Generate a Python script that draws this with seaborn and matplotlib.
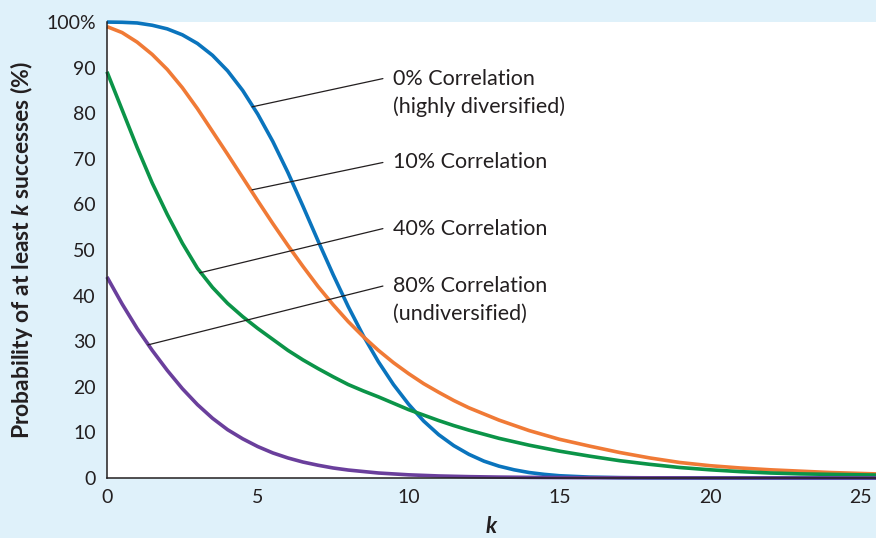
import pandas as pd
import seaborn as sns
import matplotlib.pyplot as plt

# values (k, probability of at least k successes in %)
k_0 = [0, 0.5, 1, 1.5, 2, 2.5, 3, 3.5, 4, 4.5, 5, 5.5, 6, 6.5, 7, 7.5, 8, 8.5, 9, 9.5,
       10, 10.5, 11, 11.5, 12, 12.5, 13, 13.5, 14, 14.5, 15, 16, 17, 18, 20, 25.5]
p_0 = [100, 99.95, 99.8, 99.3, 98.5, 97.2, 95.3, 92.7, 89.3, 85.0, 79.8, 73.8, 67.0, 59.6,
       52.0, 44.6, 37.6, 31.2, 25.5, 20.5, 16.2, 12.5, 9.5, 7.1, 5.2, 3.7, 2.6, 1.8, 1.2,
       0.8, 0.5, 0.2, 0.08, 0.03, 0.0, 0.0]

k_10 = [0, 0.5, 1, 1.5, 2, 2.5, 3, 3.5, 4, 4.5, 5, 5.5, 6, 6.5, 7, 7.5, 8, 8.5, 9, 9.5,
        10, 10.5, 11, 11.5, 12, 13, 14, 15, 16, 17, 18, 19, 20, 21, 22, 23, 24, 25, 25.5]
p_10 = [99.0, 97.7, 95.6, 92.9, 89.6, 85.6, 81.0, 76.0, 71.0, 65.9, 60.8, 55.8, 51.0, 46.4,
        42.0, 38.0, 34.3, 31.0, 28.0, 25.3, 22.9, 20.7, 18.8, 17.0, 15.4, 12.7, 10.4, 8.5,
        7.0, 5.6, 4.4, 3.4, 2.7, 2.2, 1.8, 1.5, 1.2, 1.0, 0.9]

k_40 = [0, 0.5, 1, 1.5, 2, 2.5, 3, 3.5, 4, 4.5, 5, 5.5, 6, 6.5, 7, 7.5, 8, 8.5, 9, 9.5,
        10, 10.5, 11, 11.5, 12, 13, 14, 15, 16, 17, 18, 19, 20, 21, 22, 23, 24, 25, 25.5]
p_40 = [89.1, 80.8, 72.5, 64.7, 57.8, 51.5, 46.0, 41.8, 38.3, 35.4, 32.8, 30.4, 28.0, 25.9,
        24.0, 22.2, 20.5, 19.1, 17.8, 16.4, 15.0, 13.8, 12.6, 11.5, 10.5, 8.7, 7.2, 5.9,
        4.8, 3.8, 3.0, 2.3, 1.8, 1.4, 1.1, 0.9, 0.8, 0.7, 0.65]

k_80 = [0, 0.5, 1, 1.5, 2, 2.5, 3, 3.5, 4, 4.5, 5, 5.5, 6, 6.5, 7, 7.5, 8, 9, 10, 11,
        12, 13, 14, 16, 20, 25.5]
p_80 = [44.1, 38.2, 32.8, 28.0, 23.6, 19.6, 16.1, 13.1, 10.6, 8.6, 6.9, 5.5, 4.4, 3.5,
        2.8, 2.2, 1.75, 1.1, 0.7, 0.45, 0.3, 0.2, 0.14, 0.07, 0.02, 0.01]

series_names = ["0%", "10%", "40%", "80%"]
label_lines = [["0% Correlation", "(highly diversified)"], ["10% Correlation"],
               ["40% Correlation"], ["80% Correlation", "(undiversified)"]]
# where each leader line touches its curve and where it ends next to the label (k, %)
touch_k = [4.81, 4.81, 3.08, 1.36]
touch_p = [81.4, 63.2, 45.0, 29.2]
label_k = [9.15, 9.15, 9.15, 9.15]
label_p = [87.6, 69.2, 54.7, 42.1]

colors = {"0%": "#0a74bd", "10%": "#f07a36", "40%": "#0b9448", "80%": "#6a3f9c"}

df = pd.concat([
    pd.DataFrame({"k": k_0, "p": p_0, "corr": "0%"}),
    pd.DataFrame({"k": k_10, "p": p_10, "corr": "10%"}),
    pd.DataFrame({"k": k_40, "p": p_40, "corr": "40%"}),
    pd.DataFrame({"k": k_80, "p": p_80, "corr": "80%"}),
])

sns.set_theme(style="white")
plt.rcParams["font.family"] = ["Lato", "DejaVu Sans"]
plt.rcParams["mathtext.fontset"] = "custom"
plt.rcParams["mathtext.it"] = "Lato:italic:bold"
plt.rcParams["mathtext.rm"] = "Lato"

BG = "#dff1fa"
INK = "#231f20"

fig = plt.figure(figsize=(8.76, 5.38), dpi=100, facecolor=BG)
ax = fig.add_axes([0.1221, 0.1115, 0.8779, 0.8475])
ax.set_facecolor("white")

sns.lineplot(data=df, x="k", y="p", hue="corr", palette=colors, hue_order=series_names,
             estimator=None, sort=True, linewidth=2.6, legend=False, ax=ax)
for ln in ax.get_lines():
    ln.set_clip_on(False)
    ln.set_solid_capstyle("butt")
    ln.set_solid_joinstyle("round")

# leader lines + labels
for i, lines in enumerate(label_lines):
    ax.plot([touch_k[i], label_k[i]], [touch_p[i], label_p[i]], color=INK, lw=0.9, zorder=5)
    for j, txt in enumerate(lines):
        ax.text(label_k[i] + 0.33, label_p[i] - 6.2 * j, txt, fontsize=15.5, color=INK,
                ha="left", va="center")

ax.set_xlim(0, 25.5)
ax.set_ylim(0, 100)
ax.set_xticks([0, 5, 10, 15, 20, 25])
ax.set_yticks(range(0, 101, 10))
ax.set_yticklabels([str(v) for v in range(0, 100, 10)] + ["100%"])
ax.tick_params(axis="both", direction="out", length=5, width=1, color=INK,
               labelsize=14, labelcolor=INK, pad=3)

for side in ["top", "right"]:
    ax.spines[side].set_visible(False)
for side in ["left", "bottom"]:
    ax.spines[side].set_color(INK)
    ax.spines[side].set_linewidth(1.1)

ax.set_ylabel("Probability of at least $k$ successes (%)", fontsize=16.5,
              fontweight="bold", color=INK)
ax.set_xlabel("$k$", fontsize=16, color=INK)
ax.yaxis.set_label_coords(-0.093, 0.5)
ax.xaxis.set_label_coords(0.5, -0.083)

fig.savefig("out.png", dpi=100, facecolor=BG)
